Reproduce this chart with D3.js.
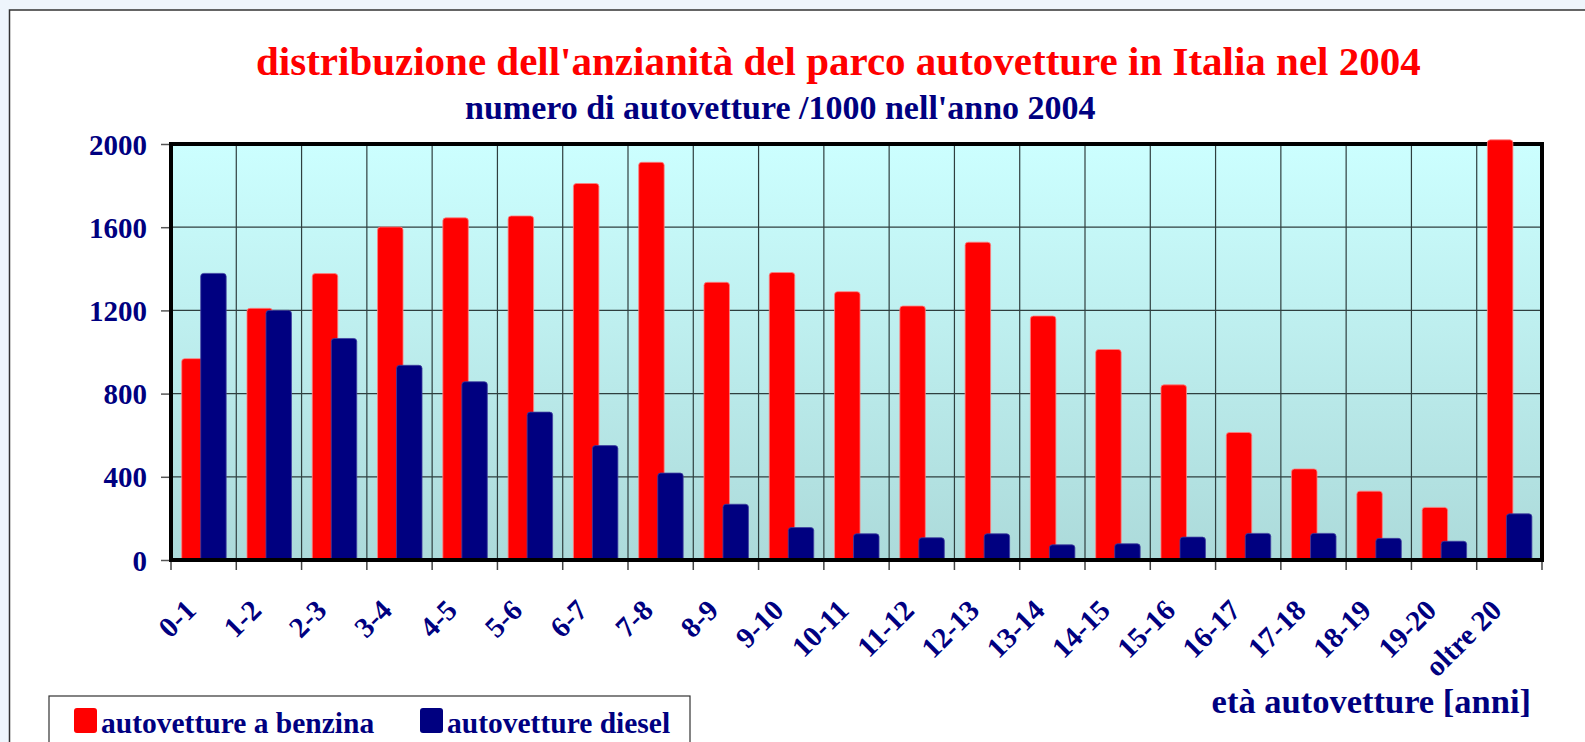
<!DOCTYPE html>
<html>
    <head>
        <meta charset="utf-8">
        <style>
            body { margin: 0; background: #eef5fc; }
            svg { display: block; }
            text { font-family: "Liberation Serif", "Times New Roman", serif; font-weight: bold; }
        </style>
    </head>
    <body>
        <svg></svg>

        <script src="https://d3js.org/d3.v7.min.js"></script>

        <script>
            // età delle autovetture (anni)
            const categories = ["0-1", "1-2", "2-3", "3-4", "4-5", "5-6", "6-7", "7-8", "8-9", "9-10",
                "10-11", "11-12", "12-13", "13-14", "14-15", "15-16", "16-17", "17-18", "18-19", "19-20", "oltre 20"];

            // migliaia di autovetture
            const benzina = [968, 1210, 1377, 1601, 1645, 1654, 1810, 1912, 1335, 1382,
                1290, 1221, 1528, 1173, 1012, 842, 613, 438, 331, 253, 2020];
            const diesel = [1378, 1200, 1065, 936, 857, 711, 550, 418, 268, 156,
                126, 107, 126, 73, 78, 110, 128, 128, 104, 90, 222];

            const yTicks = [0, 400, 800, 1200, 1600, 2000];

            const width = 1585,
                height = 742;

            const plotLeft = 171, plotRight = 1542, plotTop = 144, plotBottom = 560;

            const svg = d3.select("svg")
                .attr("width", width)
                .attr("height", height);

            // outer frame
            svg.append("rect")
                .attr("x", 9.5).attr("y", 10)
                .attr("width", width).attr("height", height)
                .attr("fill", "white")
                .attr("stroke", "#333")
                .attr("stroke-width", 1.5);

            const x = d3.scaleBand()
                .domain(categories)
                .range([plotLeft, plotRight]);

            const y = d3.scaleLinear()
                .domain([0, 2000])
                .range([plotBottom, plotTop]);

            const defs = svg.append("defs");
            const grad = defs.append("linearGradient")
                .attr("id", "bg")
                .attr("x1", 0).attr("y1", 0).attr("x2", 0).attr("y2", 1);
            grad.append("stop").attr("offset", "0%").attr("stop-color", "#ccffff");
            grad.append("stop").attr("offset", "100%").attr("stop-color", "#acdada");

            svg.append("rect")
                .attr("x", plotLeft).attr("y", plotTop)
                .attr("width", plotRight - plotLeft).attr("height", plotBottom - plotTop)
                .attr("fill", "url(#bg)");

            // grid
            svg.append("g")
                .selectAll("line")
                .data(yTicks.slice(1, -1))
                .enter().append("line")
                .attr("x1", plotLeft).attr("x2", plotRight)
                .attr("y1", d => y(d)).attr("y2", d => y(d))
                .attr("stroke", "#2f3f3f").attr("stroke-width", 1.2);

            svg.append("g")
                .selectAll("line")
                .data(categories.slice(1))
                .enter().append("line")
                .attr("x1", d => x(d)).attr("x2", d => x(d))
                .attr("y1", plotTop).attr("y2", plotBottom)
                .attr("stroke", "#2f3f3f").attr("stroke-width", 1.2);

            // plot border
            svg.append("rect")
                .attr("x", plotLeft).attr("y", plotTop)
                .attr("width", plotRight - plotLeft).attr("height", plotBottom - plotTop)
                .attr("fill", "none")
                .attr("stroke", "black")
                .attr("stroke-width", 4);

            // y axis
            const yAxis = svg.append("g")
                .attr("transform", "translate(" + (plotLeft - 2) + ",0)")
                .call(d3.axisLeft(y).tickValues(yTicks).tickFormat(d3.format("d")).tickSize(8).tickPadding(14));
            yAxis.select(".domain").remove();
            yAxis.selectAll(".tick line").attr("stroke", "#555").attr("stroke-width", 1.5);
            yAxis.selectAll(".tick text")
                .attr("fill", "#000080")
                .attr("font-size", 29)
                .attr("font-family", "Liberation Serif")
                .attr("dy", "0.35em");

            // x axis ticks at category boundaries
            svg.append("g")
                .selectAll("line")
                .data(categories.map(c => x(c)).concat([plotRight]))
                .enter().append("line")
                .attr("x1", d => d).attr("x2", d => d)
                .attr("y1", plotBottom).attr("y2", plotBottom + 10)
                .attr("stroke", "#444").attr("stroke-width", 1.5);

            svg.append("g")
                .selectAll("text")
                .data(categories)
                .enter().append("text")
                .attr("transform", d => "translate(" + (x(d) + x.bandwidth() / 2 - 6) + "," + (plotBottom + 52) + ") rotate(-45)")
                .attr("text-anchor", "end")
                .attr("fill", "#000080")
                .attr("font-size", 29)
                .text(d => d);

            // bars with rounded tops
            const bw = x.bandwidth();
            function barPath(x0, w, v) {
                const y0 = y(v), y1 = plotBottom, r = 3;
                return "M" + x0 + "," + y1 +
                    "V" + (y0 + r) +
                    "Q" + x0 + "," + y0 + " " + (x0 + r) + "," + y0 +
                    "H" + (x0 + w - r) +
                    "Q" + (x0 + w) + "," + y0 + " " + (x0 + w) + "," + (y0 + r) +
                    "V" + y1 + "Z";
            }

            svg.append("g")
                .selectAll("path")
                .data(benzina)
                .enter().append("path")
                .attr("d", (d, i) => barPath(x(categories[i]) + bw * 0.164, bw * 0.39, d))
                .attr("fill", "#ff0000")
                .attr("stroke", "#ff8080").attr("stroke-width", 0.8);

            svg.append("g")
                .selectAll("path")
                .data(diesel)
                .enter().append("path")
                .attr("d", (d, i) => barPath(x(categories[i]) + bw * 0.455, bw * 0.39, d))
                .attr("fill", "#000080")
                .attr("stroke", "#4040a0").attr("stroke-width", 0.8);

            // bottom border over the bars
            svg.append("line")
                .attr("x1", plotLeft - 2).attr("x2", plotRight + 2)
                .attr("y1", plotBottom).attr("y2", plotBottom)
                .attr("stroke", "black").attr("stroke-width", 4);

            // titles
            svg.append("text")
                .attr("x", 256).attr("y", 75)
                .attr("fill", "#ff0000")
                .attr("font-size", 41)
                .text("distribuzione dell'anzianità del parco autovetture in Italia nel 2004");

            svg.append("text")
                .attr("x", 465).attr("y", 119)
                .attr("fill", "#000080")
                .attr("font-size", 34)
                .text("numero di autovetture /1000 nell'anno 2004");

            svg.append("text")
                .attr("x", 1531).attr("y", 713)
                .attr("text-anchor", "end")
                .attr("fill", "#000080")
                .attr("font-size", 34.5)
                .text("età autovetture [anni]");

            // legend
            const legend = svg.append("g");
            legend.append("rect")
                .attr("x", 49).attr("y", 696)
                .attr("width", 641).attr("height", 80)
                .attr("fill", "white")
                .attr("stroke", "#333").attr("stroke-width", 1.2);

            const series = [
                { name: "autovetture a benzina", color: "#ff0000", x: 74 },
                { name: "autovetture diesel", color: "#000080", x: 420 }
            ];
            const item = legend.selectAll("g.item")
                .data(series)
                .enter().append("g")
                .attr("class", "item")
                .attr("transform", d => "translate(" + d.x + ",0)");
            item.append("rect")
                .attr("x", 0).attr("y", 708)
                .attr("width", 23).attr("height", 25)
                .attr("rx", 3)
                .attr("fill", d => d.color);
            item.append("text")
                .attr("x", 27).attr("y", 733)
                .attr("fill", "#000080")
                .attr("font-size", 29.5)
                .text(d => d.name);
        </script>
    </body>
</html>
